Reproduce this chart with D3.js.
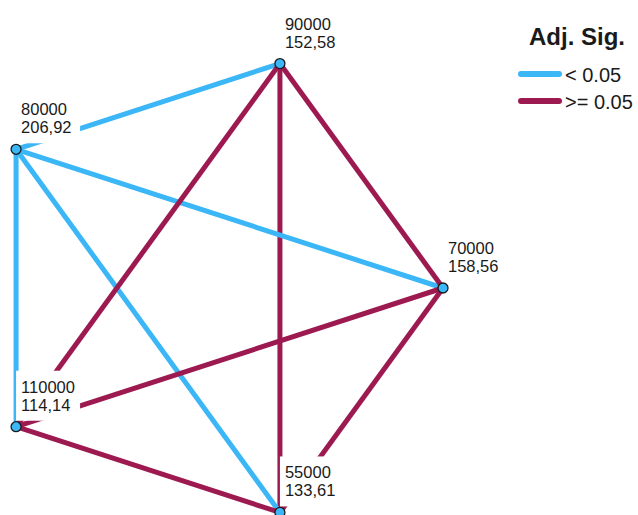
<!DOCTYPE html>
<html>
<head>
<meta charset="utf-8">
<script src="https://cdn.jsdelivr.net/npm/d3@7"></script>
<style>
  html, body { margin: 0; padding: 0; background: #fff; }
  svg { display: block; }
  text { font-family: "Liberation Sans", Arial, sans-serif; fill: #1a1a1a; }
</style>
</head>
<body>
<svg id="chart" width="638" height="515"></svg>
<script>
// ---- data ----
const nodeNames = ["70000", "90000", "80000", "110000", "55000"];
const meanRanks = ["158,56", "152,58", "206,92", "114,14", "133,61"];
// pairwise comparisons (drawing order)
const edgeFrom = ["90000", "90000", "80000", "80000", "80000", "90000", "90000", "70000", "70000", "110000"];
const edgeTo   = ["55000", "80000", "70000", "110000", "55000", "70000", "110000", "110000", "55000", "55000"];
const edgeSig  = [">= 0.05", "< 0.05", "< 0.05", "< 0.05", "< 0.05", ">= 0.05", ">= 0.05", ">= 0.05", ">= 0.05", ">= 0.05"];
const sigLevels = ["< 0.05", ">= 0.05"];
const legendTitle = "Adj. Sig.";

// ---- layout ----
const svg = d3.select("#chart");
const center = { x: 207, y: 288 };
const angle = d3.scaleLinear().domain([0, nodeNames.length]).range([0, 2 * Math.PI]);
const radius = d3.scaleLinear().domain([0, 1]).range([0, 236]);
const color = d3.scaleOrdinal().domain(sigLevels).range(["#3bb6f6", "#9d1a50"]);

const pos = {};
nodeNames.forEach((n, i) => {
  const a = angle(i);
  pos[n] = { x: center.x + radius(1) * Math.cos(a), y: center.y - radius(1) * Math.sin(a) };
});

const edges = edgeFrom.map((f, i) => ({ from: f, to: edgeTo[i], sig: edgeSig[i] }));

svg.append("g").selectAll("line").data(edges).join("line")
  .attr("x1", d => pos[d.from].x).attr("y1", d => pos[d.from].y)
  .attr("x2", d => pos[d.to].x).attr("y2", d => pos[d.to].y)
  .attr("stroke", d => color(d.sig))
  .attr("stroke-width", 5);

// labels with white boxes
const nodes = nodeNames.map((n, i) => ({ name: n, rank: meanRanks[i], x: pos[n].x, y: pos[n].y }));
const lab = svg.append("g").selectAll("g").data(nodes).join("g")
  .attr("transform", d => `translate(${d.x},${d.y})`);
lab.append("rect")
  .attr("x", 0).attr("y", -56).attr("width", 64).attr("height", 50)
  .attr("fill", "#fff");
lab.append("text").attr("x", 5).attr("y", -34)
  .attr("font-size", 16.5).text(d => d.name);
lab.append("text").attr("x", 5).attr("y", -16)
  .attr("font-size", 16.5).text(d => d.rank);

// nodes
svg.append("g").selectAll("circle").data(nodes).join("circle")
  .attr("cx", d => d.x).attr("cy", d => d.y).attr("r", 5)
  .attr("fill", color("< 0.05"))
  .attr("stroke", "#1a1a1a").attr("stroke-width", 1.3);

// legend
const lg = svg.append("g");
lg.append("text").attr("x", 529).attr("y", 45)
  .attr("font-size", 24).attr("font-weight", "bold").text(legendTitle);
const items = lg.selectAll("g.item").data(sigLevels).join("g")
  .attr("class", "item")
  .attr("transform", (d, i) => `translate(0,${74 + i * 27})`);
items.append("line")
  .attr("x1", 521).attr("x2", 559).attr("y1", 0).attr("y2", 0)
  .attr("stroke", d => color(d)).attr("stroke-width", 6)
  .attr("stroke-linecap", "round");
items.append("text").attr("x", 565).attr("y", 8)
  .attr("font-size", 20).text(d => d);
</script>
</body>
</html>
